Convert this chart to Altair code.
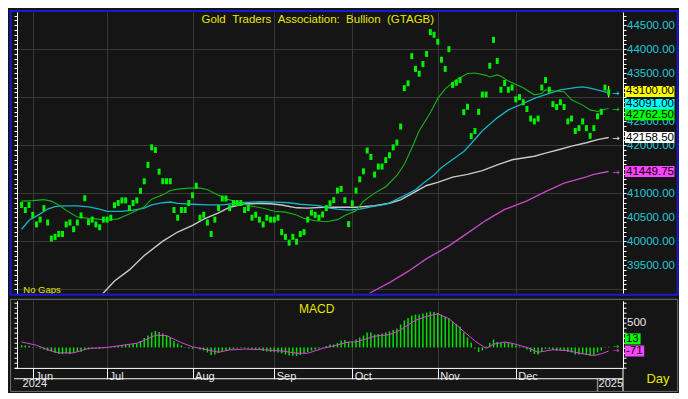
import altair as alt
import pandas as pd

# ---------------- data ----------------
months = ["Jun", "Jul", "Aug", "Sep", "Oct", "Nov", "Dec"]
month_start = [3, 23, 46, 68, 89, 112, 133]          # bar index of first trading day
years = ["2024", "2025"]
year_start = [0, 155]

close = [
    40754, 40648, 40754, 40548, 40348, 40448, 40688, 40388, 40054, 40088,
    40148, 40148, 40348, 40388, 40248, 40388, 40534, 40894, 40394, 40448,
    40348, 40288, 40448, 40448, 40488, 40748, 40794, 40848, 40848, 40688,
    40794, 40848, 41048, 41248, 41588, 41954, 41900, 41448, 41248, 41248,
    41248, 40648, 40488, 40648, 40648, 40794, 40954, 41154, 40488, 40548,
    40388, 40148, 40448, 40688, 40888, 40888, 40688, 40794, 40794, 40794,
    40648, 40688, 40488, 40548, 40448, 40348, 40488, 40448, 40448, 40488,
    40188, 40088, 39968, 40088, 39988, 40148, 40188, 40448, 40594, 40548,
    40488, 40554, 40688, 40788, 40854, 41054, 41088, 40854, 40354, 40788,
    41054, 41288, 41454, 41888, 41754, 41388, 41554, 41554, 41688, 41788,
    41954, 42054, 42388, 43188, 43288, 43854, 43588, 43488, 43688, 43900,
    44354, 44300, 44154, 43780, 43588, 44000, 43254, 43300, 43354, 42688,
    42800, 42188, 42294, 42694, 43054, 43054, 43654, 44194, 43754, 43154,
    43294, 43154, 43200, 42954, 43000, 42894, 42754, 42554, 42494, 42554,
    43200, 43354, 43154, 42854, 42794, 42894, 42794, 42494, 42554, 42294,
    42354, 42494, 42354, 42194, 42354, 42600, 42694, 43200, 43100,
]
last_high = 43234
last_low = 42994

green_i = [0, 3, 6, 8, 10, 12, 15, 18, 20, 23, 26, 28, 30, 33, 35, 38, 40, 42, 45, 48,
           50, 52, 55, 58, 61, 65, 68, 71, 74, 76, 79, 82, 85, 87, 90, 92, 95, 98, 101, 103,
           105, 107, 110, 112, 114, 117, 120, 122, 125, 126, 128, 129, 131, 135, 138, 140, 141, 143, 146, 148,
           151, 153, 155, 157, 158]
green_v = [40834, 40844, 40864, 40834, 40754, 40640, 40504, 40474, 40464, 40434, 40464, 40534, 40600, 40714, 40874, 40964, 41054, 41084, 41104, 41104,
           41074, 40994, 40884, 40814, 40744, 40684, 40624, 40604, 40544, 40474, 40424, 40404, 40448, 40534, 40634, 40834, 41000, 41134, 41368, 41600,
           41934, 42300, 42674, 42974, 43174, 43364, 43494, 43504, 43454, 43420, 43464, 43434, 43334, 43194, 43048, 43074, 43154, 43134, 43114, 42944,
           42834, 42734, 42700, 42748, 42762.5]

cyan_i = [0, 2, 5, 7, 9, 11, 15, 18, 21, 23, 27, 30, 33, 35, 38, 40, 42, 46, 50, 54,
          59, 64, 68, 72, 75, 80, 82, 85, 88, 91, 94, 98, 100, 103, 106, 108, 111, 113, 116, 119,
          121, 124, 128, 131, 135, 138, 142, 145, 149, 151, 153, 156, 158]
cyan_v = [40248, 40434, 40568, 40668, 40720, 40734, 40734, 40714, 40668, 40620, 40620, 40648, 40688, 40754, 40800, 40815, 40788, 40768, 40754, 40754,
          40800, 40820, 40814, 40800, 40768, 40740, 40700, 40668, 40648, 40668, 40714, 40768, 40834, 40948, 41068, 41200, 41380, 41534, 41700, 41868,
          42034, 42300, 42568, 42734, 42868, 42975, 43080, 43150, 43200, 43212, 43190, 43130, 43091]

white_i = [20, 22, 25, 29, 33, 38, 42, 46, 49, 53, 56, 60, 64, 67, 70, 74, 77, 81, 85, 90,
           95, 99, 102, 106, 109, 112, 116, 120, 124, 128, 132, 138, 141, 145, 148, 152, 155, 158]
white_v = [38780, 38920, 39168, 39400, 39700, 40000, 40190, 40330, 40460, 40590, 40707, 40775, 40785, 40780, 40754, 40694, 40688, 40707, 40705, 40705,
           40740, 40790, 40860, 41030, 41160, 41225, 41335, 41390, 41468, 41590, 41695, 41768, 41834, 41914, 41980, 42050, 42114, 42158.5]

mag_i = [92, 94, 99, 104, 109, 115, 120, 125, 130, 136, 141, 146, 152, 154, 158]
mag_v = [38800, 38930, 39134, 39368, 39634, 39900, 40168, 40434, 40660, 40840, 41030, 41210, 41340, 41390, 41449.75]

macd = [
    45, 40, 30, 10, -5, -20, -40, -64, -80, -110,
    -130, -135, -120, -130, -110, -95, -85, -50, -40, -30,
    -25, -30, -20, -10, 10, 25, 35, 50, 60, 55,
    70, 85, 130, 190, 240, 300, 330, 310, 280, 240,
    190, 130, 80, 40, 10, -20, -30, -10, -40, -60,
    -100, -150, -140, -110, -80, -60, -50, -30, -20, -10,
    -15, -20, -30, -35, -50, -70, -80, -90, -95, -100,
    -120, -140, -160, -165, -170, -150, -120, -90, -60, -40,
    -20, 10, 30, 60, 60, 90, 140, 150, 110, 120,
    160, 200, 240, 300, 300, 260, 270, 280, 300, 320,
    350, 380, 460, 540, 590, 640, 660, 660, 680, 700,
    720, 710, 690, 660, 620, 580, 520, 470, 420, 300,
    200, 100, -20, -90, -60, 20, 90, 160, 110, 90,
    100, 90, 80, 40, 20, -10, -40, -90, -130, -140,
    -80, -30, -30, -50, -60, -50, -60, -90, -100, -140,
    -140, -130, -150, -170, -150, -100, -60, -10, 13,
]
sig_i = [0, 4, 7, 10, 14, 18, 23, 26, 31, 33, 36, 39, 43, 46, 49, 53, 56, 60, 65, 70,
         74, 77, 81, 84, 88, 90, 95, 99, 102, 106, 109, 112, 115, 118, 122, 125, 127, 130, 132, 136,
         139, 143, 147, 151, 154, 156, 158]
sig_v = [110, 45, -45, -108, -108, -19, 0, 32, 84, 141, 244, 238, 96, 13, -32, -96, -50, -32, -45, -70,
         -115, -115, -19, 32, 110, 110, 225, 257, 353, 546, 623, 673, 577, 385, 129, -19, 65, 110, 84, 0,
         -96, -45, -64, -128, -160, -128, -71]

price_tags = [43100, 43091, 42762.5, 42158.5, 41449.75]
price_tag_text = ["43100.00", "43091.00", "42762.50", "42158.50", "41449.75"]
macd_tags = [13, -71]
macd_tag_text = ["13", "-71"]
hidden_labels = [43000, 41500, 39000]      # axis labels covered by tags / off the edge

# ---------------- layout constants ----------------
FONT = "Liberation Sans"
YEL = "#e6e600"
BG = "#151515"
GRID = "#383838"
SX = 672 / 688
SY = 383 / 399
W = 623.5 * SX
H1 = 293 * SY
H2 = 70 * SY

xs = alt.Scale(domain=[-2.05, 161.85], nice=False, zero=False)
ys1 = alt.Scale(domain=[38914, 44774], nice=False, zero=False)
ys2 = alt.Scale(domain=[-410, 937], nice=False, zero=False)

one = pd.DataFrame({"a": [0]})

x_main = alt.X("i:Q", scale=xs, axis=alt.Axis(values=month_start, grid=True, gridColor=GRID,
                                              labels=False, ticks=False, domain=False, title=None))

yR1 = alt.Axis(orient="right", values=list(range(38900, 44701, 100)),
               labelExpr=f"datum.value % 500 === 0 && indexof({hidden_labels}, datum.value) < 0 ? format(datum.value, '.2f') : ''",
               labelColor="#1ec8d8", labelFont=FONT, labelFontSize=11.5, labelPadding=0.5,
               labelOverlap=False, labelBaseline="middle", labelAlign="left",
               tickColor="#ffffff", tickSize=3, domainColor="#ffffff",
               grid=True, gridColor=GRID,
               gridOpacity={"condition": {"test": "datum.value % 1000 === 0", "value": 1}, "value": 0},
               title=None)
yL1 = alt.Axis(orient="left", values=list(range(38900, 44701, 100)), labels=False,
               tickColor="#ffffff", tickSize=3, domainColor="#ffffff", offset=-3, grid=False, title=None)


def mline(ii, vv, color, width, clip=False, axis=None):
    d = pd.DataFrame({"i": ii, "v": vv})
    return alt.Chart(d).mark_line(color=color, strokeWidth=width, clip=clip).encode(
        x=x_main, y=alt.Y("v:Q", scale=ys1, axis=axis))


def tag_layers(val, text, bg, off, cx, w, tx, ys):
    d = pd.DataFrame({"v": [val], "t": [text]})
    box = alt.Chart(d).mark_tick(orient="horizontal", size=w, thickness=11,
                                 color=bg, opacity=1, yOffset=off).encode(
        x=alt.value(cx), y=alt.Y("v:Q", scale=ys, axis=None))
    txt = alt.Chart(d).mark_text(align="left", baseline="middle", font=FONT, fontSize=11.5,
                                 color="#000000", dy=off).encode(
        x=alt.value(tx), y=alt.Y("v:Q", scale=ys, axis=None), text="t:N")
    return [box, txt]


price_df = pd.DataFrame({"i": list(range(len(close))), "v": close})

frame1 = alt.Chart(one).mark_rect(fillOpacity=0, stroke="#1818d8", strokeWidth=2).encode(
    x=alt.value(-3.4), x2=alt.value(W + 54.7), y=alt.value(-1), y2=alt.value(H1 + 1.4))

l_mag = mline(mag_i, mag_v, "#c448c4", 1.4, clip=True, axis=yL1)
l_white = mline(white_i, white_v, "#c8c8c8", 1.4, clip=True)
l_cyan = mline(cyan_i, cyan_v, "#14b4c4", 1.3)
l_green = mline(green_i, green_v, "#14b414", 1.1)

last_df = pd.DataFrame({"i": [len(close) - 1], "hi": [last_high], "lo": [last_low]})
last_bar = alt.Chart(last_df).mark_rule(color="#ffff00", strokeWidth=1).encode(
    x=x_main, y=alt.Y("hi:Q", scale=ys1, axis=None), y2="lo:Q")

bars = alt.Chart(price_df).mark_tick(orient="vertical", thickness=3, size=6, color="#00f000",
                                     opacity=1).encode(
    x=x_main, y=alt.Y("v:Q", scale=ys1, axis=yR1))

NB = "\u00a0"
title_text = f"Gold{NB}{NB}Traders{NB}{NB}Association:{NB}{NB}Bullion{NB}{NB}(GTAGB)"
title = alt.Chart(one).mark_text(text=title_text, font=FONT,
                                 fontSize=11.5, color=YEL, align="center", baseline="middle").encode(
    x=alt.value((316.5 - 5.5) * SX), y=alt.value((11 - 3) * SY))
nogaps = alt.Chart(one).mark_text(text="No Gaps", font=FONT, fontSize=9.5, color=YEL,
                                  align="left", baseline="middle").encode(
    x=alt.value((15 - 5.5) * SX), y=alt.value((293 - 3) * SY))

arrow_df = pd.DataFrame({"i": [160.0] * 4, "v": price_tags[1:],
                         "c": ["#00e0f0", "#00d000", "#e0e0e0", "#e040e0"]})
arrows = alt.Chart(arrow_df).mark_text(text="→", fontSize=9, font="DejaVu Sans",
                                       baseline="middle").encode(
    x=x_main, y=alt.Y("v:Q", scale=ys1, axis=None), color=alt.Color("c:N", scale=None))

tag_bg = ["#ffff00", "#00ffff", "#00ff00", "#ffffff", "#ff44ff"]
tag_off = [-0.9, 11.6, 6.3, 0, 0]
tags = []
for v, t, bg, off in zip(price_tags, price_tag_text, tag_bg, tag_off):
    tags += tag_layers(v, t, bg, off, W + 26.7, 49.5, W + 3.0, ys1)

main = alt.layer(l_mag, l_white, l_cyan, l_green, last_bar, bars, arrows, title, nogaps,
                 *tags, frame1).resolve_axis(y="independent").properties(width=W, height=H1)

# ---------------- MACD panel ----------------
month_expr = f"{months}[indexof({month_start}, datum.value)]"
x_macd = alt.X("i:Q", scale=xs, axis=alt.Axis(
    values=month_start, labelExpr=month_expr, grid=True, gridColor=GRID,
    ticks=True, tickSize=10.85, tickColor="#ffffff", domain=True, domainColor="#ffffff",
    labelAlign="left", labelBaseline="top", labelPadding=-7.95, labelOffset=2,
    labelColor="#e8e8e8", labelFont=FONT, labelFontSize=11, labelFlush=False,
    labelOverlap=False, title=None))

yR2 = alt.Axis(orient="right", values=list(range(-400, 901, 100)),
               labelExpr="datum.value === 500 ? '500' : ''", labelColor="#e8e8e8",
               labelFont=FONT, labelFontSize=11.5, labelPadding=0.5, labelOverlap=False,
               labelBaseline="middle", labelAlign="left",
               tickColor="#ffffff", tickSize=3, domainColor="#ffffff", grid=False, title=None)
yL2 = alt.Axis(orient="left", values=list(range(-400, 901, 100)), labels=False,
               tickColor="#ffffff", tickSize=3, domainColor="#ffffff", offset=-3, grid=False, title=None)

macd_df = pd.DataFrame({"i": list(range(len(macd))), "v": macd})
sig_df = pd.DataFrame({"i": sig_i, "v": sig_v})

hist = alt.Chart(macd_df).mark_rule(color="#00e000", strokeWidth=1.5).encode(
    x=x_macd, y=alt.Y("v:Q", scale=ys2, axis=yR2), y2=alt.datum(0))
sig = alt.Chart(sig_df).mark_line(color="#e040e0", strokeWidth=1).encode(
    x=x_macd, y=alt.Y("v:Q", scale=ys2, axis=yL2))

macd_label = alt.Chart(one).mark_text(text="MACD", font=FONT, fontSize=12, color=YEL,
                                      align="center", baseline="middle").encode(
    x=alt.value((315.5 - 5.5) * SX), y=alt.value((311.3 - 303) * SY))
day_label = alt.Chart(one).mark_text(text="Day", font=FONT, fontSize=13, color=YEL,
                                     align="left", baseline="middle").encode(
    x=alt.value(W + (653 - 629) * SX), y=alt.value(H2 + (384.5 - 373) * SY))

year_df = pd.DataFrame({"i": year_start, "t": years})
year_text = alt.Chart(year_df).mark_text(font=FONT, fontSize=11, color="#e8e8e8", align="left",
                                         baseline="middle", dx=1).encode(
    x=x_macd, y=alt.value(H2 + (390 - 373) * SY), text="t:N")
year_sep = alt.Chart(pd.DataFrame({"i": year_start[1:]})).mark_rule(color="#8a8a8a", strokeWidth=1.5).encode(
    x=x_macd, y=alt.value(H2 + 10.85), y2=alt.value(H2 + 23.5))
year_line = alt.Chart(one).mark_rule(color="#ffffff", strokeWidth=1).encode(
    x=alt.value(0), x2=alt.value(W), y=alt.value(H2 + 10.85))
right_line = alt.Chart(one).mark_rule(color="#ffffff", strokeWidth=1).encode(
    x=alt.value(W), y=alt.value(H2), y2=alt.value(H2 + 23.5))
frame2 = alt.Chart(one).mark_rect(fillOpacity=0, stroke="#707070", strokeWidth=1).encode(
    x=alt.value(-3.4), x2=alt.value(W + 54.7), y=alt.value(-1.4), y2=alt.value(H2 + 23.5))

marrow_df = pd.DataFrame({"i": [160.0, 160.0], "v": macd_tags, "c": ["#00d000", "#e040e0"]})
marrows = alt.Chart(marrow_df).mark_text(text="→", fontSize=8, font="DejaVu Sans",
                                         baseline="middle").encode(
    x=x_macd, y=alt.Y("v:Q", scale=ys2, axis=None), color=alt.Color("c:N", scale=None))

mtags = []
mtags += tag_layers(macd_tags[0], macd_tag_text[0], "#00ff00", -7.9, W + 9.8, 15.6, W + 2.9, ys2)
mtags += tag_layers(macd_tags[1], macd_tag_text[1], "#ff44ff", 0, W + 11.6, 19.2, W + 2.9, ys2)

macd_panel = alt.layer(hist, sig, marrows, macd_label, day_label, year_text, year_sep, year_line,
                       right_line, *mtags, frame2).resolve_axis(y="independent").properties(
    width=W, height=H2)

chart = alt.vconcat(main, macd_panel, spacing=7 * SY, bounds="flush").properties(
    background=BG, padding={"left": 1, "top": 1, "right": 0, "bottom": 0}
).configure_view(stroke=None, fill=BG)

chart.save("out.html", embed_options={"renderer": "svg", "actions": False})
